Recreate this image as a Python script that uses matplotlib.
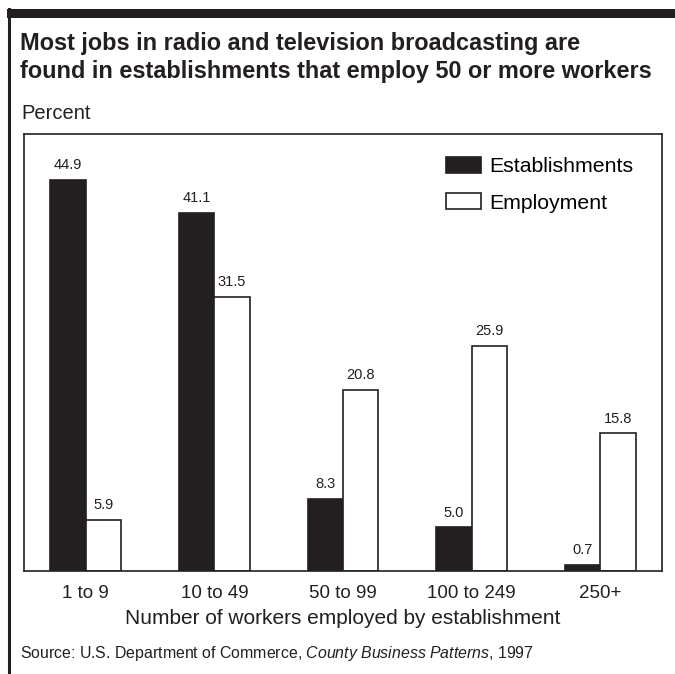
import numpy as np
import matplotlib.pyplot as plt
from matplotlib.patches import Rectangle
from matplotlib.lines import Line2D

categories = ['1 to 9', '10 to 49', '50 to 99', '100 to 249', '250+']
establishments = [44.9, 41.1, 8.3, 5.0, 0.7]
employment = [5.9, 31.5, 20.8, 25.9, 15.8]

plt.rcParams['font.family'] = ['Liberation Sans', 'DejaVu Sans']
plt.rcParams['mathtext.fontset'] = 'custom'
plt.rcParams['mathtext.rm'] = 'Liberation Sans'
plt.rcParams['mathtext.it'] = 'Liberation Sans:italic'
dark = '#231f20'
W, H = 675, 674

fig = plt.figure(figsize=(6.75, 6.74), dpi=100)

# frame decorations: thick top bar and left rule
fig.add_artist(Rectangle((7/W, 1-18/H), 1, 9/H, transform=fig.transFigure,
                         color=dark, lw=0))
fig.add_artist(Line2D([8.5/W, 8.5/W], [0, 1-9/H], transform=fig.transFigure,
                      color=dark, lw=2.2))

ax = fig.add_axes([24/W, 1-571/H, 638/W, 437/H])
x = np.arange(len(categories))
w = 0.275
b1 = ax.bar(x - w/2, establishments, w, color=dark, edgecolor=dark, lw=1.2,
            label='Establishments')
b2 = ax.bar(x + w/2, employment, w, color='white', edgecolor=dark, lw=1.2,
            label='Employment')
for bars, vals in [(b1, establishments), (b2, employment)]:
    for r, v in zip(bars, vals):
        ax.text(r.get_x() + r.get_width()/2, v + 0.9, f'{v:.1f}', ha='center',
                va='bottom', fontsize=10.5, color=dark)

ax.set_xlim(-0.48, 4.48)
ax.set_ylim(0, 50.2)
ax.set_yticks([])
ax.set_xticks(x)
ax.set_xticklabels(categories, fontsize=13.5, color=dark)
ax.tick_params(axis='x', length=0, pad=10)
for s in ax.spines.values():
    s.set_color(dark)
    s.set_linewidth(1.2)
ax.set_xlabel('Number of workers employed by establishment', fontsize=15,
              labelpad=5, color=dark)

ax.legend(loc='upper right', bbox_to_anchor=(0.985, 0.992), frameon=False,
          fontsize=15.3, handlelength=1.65, handleheight=0.8, handletextpad=0.4,
          labelspacing=0.8)

fig.text(20/W, 1-50/H, 'Most jobs in radio and television broadcasting are',
         fontsize=16.9, fontweight='bold', va='baseline', color=dark)
fig.text(20/W, 1-78/H, 'found in establishments that employ 50 or more workers',
         fontsize=16.9, fontweight='bold', va='baseline', color=dark)
fig.text(21/W, 1-119/H, 'Percent', fontsize=14.5, va='baseline', color=dark)
fig.text(20/W, 1-658/H, 'Source: U.S. Department of Commerce, $\\mathit{County\\ Business\\ Patterns}$, 1997',
         fontsize=11.4, va='baseline', color=dark)

fig.savefig('out.png', dpi=100)
